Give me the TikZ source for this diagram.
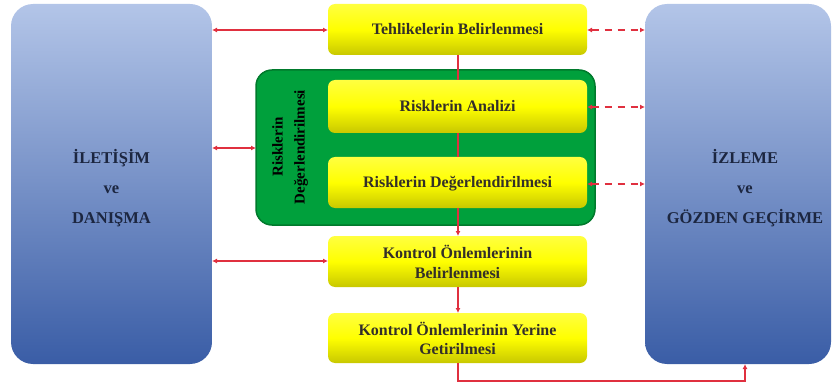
\documentclass[tikz,border=0pt]{standalone}
\usepackage{fontspec}
\setmainfont{Liberation Serif}
\usetikzlibrary{arrows.meta}
\definecolor{arrred}{HTML}{E0303F}
\definecolor{bluetop}{HTML}{B3C5E8}
\definecolor{bluebot}{HTML}{3A5DA6}
\definecolor{navy}{HTML}{1C2640}
\definecolor{ytop}{HTML}{FFFF40}
\definecolor{ybot}{HTML}{C8C800}
\definecolor{gfill}{HTML}{00A03C}
\definecolor{gdraw}{HTML}{007A2C}
\tikzset{
  bluebox/.style={rounded corners=22pt, top color=bluetop, bottom color=bluebot, draw=none},
  ybox/.style={rounded corners=7pt, top color=ytop, bottom color=ybot, middle color=yellow, draw=none},
  gbox/.style={rounded corners=16pt, fill=gfill, draw=gdraw, line width=1.5pt},
  lbl/.style={font=\bfseries\fontsize{16}{19.5}\selectfont, text=black!85!olive, align=center},
  blbl/.style={font=\bfseries\fontsize{16.5}{30}\selectfont, text=navy, align=center},
  link/.style={draw=arrred, line width=1.3pt, {Latex[length=5pt,width=5pt]}-{Latex[length=5pt,width=5pt]}},
  dlink/.style={link, dash pattern=on 7pt off 6pt},
  flow/.style={draw=arrred, line width=1.3pt, -{Latex[length=5pt,width=5pt]}},
}
\begin{document}
\begin{tikzpicture}[x=1pt,y=-1pt]
\useasboundingbox (0,0) rectangle (833,385);
% blue boxes
\path[bluebox] (11,4) rectangle (212,364);
\path[bluebox] (645,4) rectangle (831,364);
\node[blbl] (iletisim) at (111.5,188) {İLETİŞİM\\ve\\DANIŞMA};
\node[blbl] (izleme) at (745,188) {İZLEME\\ve\\GÖZDEN GEÇİRME};
% green box
\path[gbox] (256,70) rectangle (595,225);
\node[font=\bfseries\fontsize{15}{22}\selectfont, rotate=90, align=center] (gtext) at (290,147) {Risklerin\\Değerlendirilmesi};
% yellow boxes
\path[ybox] (328,4) rectangle (587,55);
\node[lbl] (teh) at (457.5,29.5) {Tehlikelerin Belirlenmesi};
\path[ybox] (328,80) rectangle (587,133);
\node[lbl] (ana) at (457.5,106.5) {Risklerin Analizi};
\path[ybox] (328,157) rectangle (587,208);
\node[lbl] (deg) at (457.5,184) {Risklerin Değerlendirilmesi};
\path[ybox] (328,236) rectangle (587,287);
\node[lbl] (kob) at (457.5,262) {Kontrol Önlemlerinin\\Belirlenmesi};
\path[ybox] (328,313) rectangle (587,363);
\node[lbl] (koy) at (457.5,338.5) {Kontrol Önlemlerinin Yerine\\Getirilmesi};
% left links
\draw[link] (212,30) -- (328,30);
\draw[link] (212,148) -- (256,148);
\draw[link] (212,261) -- (328,261);
% right dashed links
\draw[dlink] (587,30) -- (645,30);
\draw[dlink] (587,107) -- (645,107);
\draw[dlink] (587,184) -- (645,184);
% vertical flow
\draw[draw=arrred, line width=1.3pt] (458,55) -- (458,80);
\draw[draw=arrred, line width=1.3pt] (458,133) -- (458,157);
\draw[flow] (458,208) -- (458,236);
\draw[flow] (458,287) -- (458,313);
\draw[flow] (458,363) -- (458,381) -- (745,381) -- (745,364);
\end{tikzpicture}
\end{document}
